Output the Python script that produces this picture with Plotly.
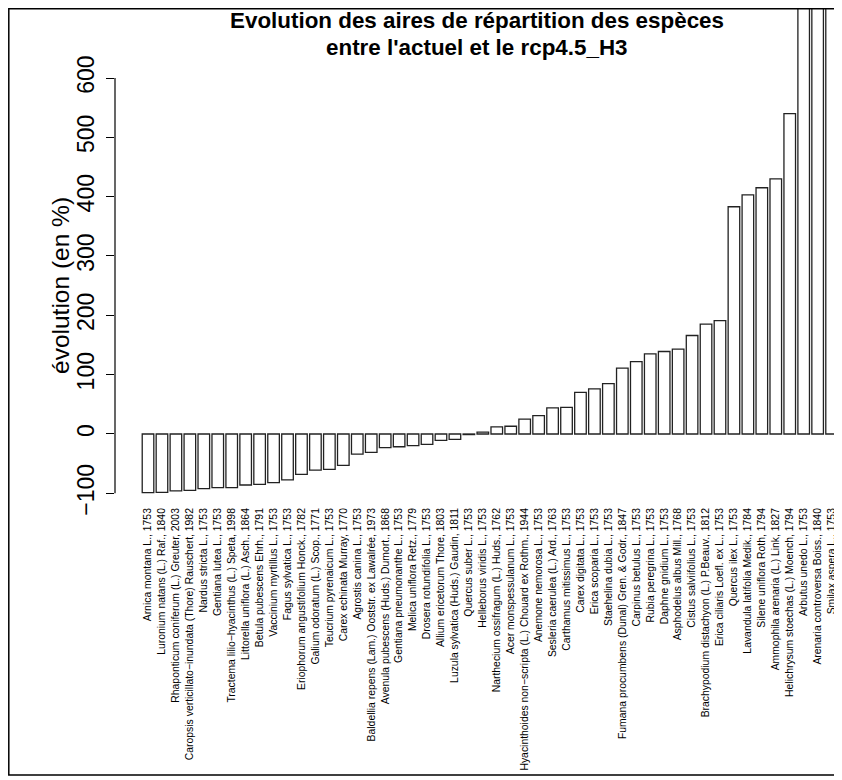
import plotly.graph_objects as go

# species, sorted by change in range area
especes = [
    "Arnica montana L., 1753",
    "Luronium natans (L.) Raf., 1840",
    "Rhaponticum coniferum (L.) Greuter, 2003",
    "Caropsis verticillato−inundata (Thore) Rauschert, 1982",
    "Nardus stricta L., 1753",
    "Gentiana lutea L., 1753",
    "Tractema lilio−hyacinthus (L.) Speta, 1998",
    "Littorella uniflora (L.) Asch., 1864",
    "Betula pubescens Ehrh., 1791",
    "Vaccinium myrtillus L., 1753",
    "Fagus sylvatica L., 1753",
    "Eriophorum angustifolium Honck., 1782",
    "Galium odoratum (L.) Scop., 1771",
    "Teucrium pyrenaicum L., 1753",
    "Carex echinata Murray, 1770",
    "Agrostis canina L., 1753",
    "Baldellia repens (Lam.) Ooststr. ex Lawalrée, 1973",
    "Avenula pubescens (Huds.) Dumort., 1868",
    "Gentiana pneumonanthe L., 1753",
    "Melica uniflora Retz., 1779",
    "Drosera rotundifolia L., 1753",
    "Allium ericetorum Thore, 1803",
    "Luzula sylvatica (Huds.) Gaudin, 1811",
    "Quercus suber L., 1753",
    "Helleborus viridis L., 1753",
    "Narthecium ossifragum (L.) Huds., 1762",
    "Acer monspessulanum L., 1753",
    "Hyacinthoides non−scripta (L.) Chouard ex Rothm., 1944",
    "Anemone nemorosa L., 1753",
    "Sesleria caerulea (L.) Ard., 1763",
    "Carthamus mitissimus L., 1753",
    "Carex digitata L., 1753",
    "Erica scoparia L., 1753",
    "Staehelina dubia L., 1753",
    "Fumana procumbens (Dunal) Gren. & Godr., 1847",
    "Carpinus betulus L., 1753",
    "Rubia peregrina L., 1753",
    "Daphne gnidium L., 1753",
    "Asphodelus albus Mill., 1768",
    "Cistus salviifolius L., 1753",
    "Brachypodium distachyon (L.) P.Beauv., 1812",
    "Erica ciliaris Loefl. ex L., 1753",
    "Quercus ilex L., 1753",
    "Lavandula latifolia Medik., 1784",
    "Silene uniflora Roth, 1794",
    "Ammophila arenaria (L.) Link, 1827",
    "Helichrysum stoechas (L.) Moench, 1794",
    "Arbutus unedo L., 1753",
    "Arenaria controversa Boiss., 1840",
    "Smilax aspera L., 1753",
]

evolution = [
    -99, -98.5, -96, -95, -92, -90.5, -90.5, -86, -85, -82,
    -77.5, -68, -61, -59.5, -53, -34, -31, -23, -21.5, -19.5,
    -17.5, -10.8, -9, -1, 3, 12, 13, 25, 31, 44,
    45, 70, 76, 85, 111, 122, 135, 139, 143, 166,
    185, 191, 383, 403, 415, 430, 540, 780, 950, 1200,
]

y_ticks = [-100, 0, 100, 200, 300, 400, 500, 600]

titre = ["Evolution des aires de répartition des espèces",
         "entre l'actuel et le rcp4.5_H3"]

# page body has an 8px margin, so the figure is sized to fit the window
W, H = 834, 772
px = lambda v: v / W
py = lambda v: 1 - v / H

font = "Liberation Sans, Arial, Helvetica, sans-serif"

fig = go.Figure()
fig.add_trace(go.Bar(
    x=especes,
    y=evolution,
    marker=dict(color="white", line=dict(color="#222222", width=1.3)),
    hoverinfo="x+y",
))

fig.update_layout(
    width=W, height=H,
    margin=dict(l=0, r=0, t=0, b=0),
    paper_bgcolor="white", plot_bgcolor="white",
    bargap=0.17,
    showlegend=False,
    font=dict(family=font, color="black"),
    xaxis=dict(
        domain=[px(107), px(830)],
        range=[-2.366, 49.46],
        tickmode="array", tickvals=especes, ticktext=especes,
        tickangle=-90,
        tickfont=dict(size=10.4, color="black"),
        showgrid=False, zeroline=False, showline=False, ticks="",
        automargin=False,
    ),
    yaxis=dict(
        domain=[py(497), py(1)],
        range=[-119.7, 716.3],
        tickvals=y_ticks,
        tickangle=-90,
        tickfont=dict(size=23, color="black"),
        ticks="outside", ticklen=8, tickwidth=1.2, tickcolor="black",
        ticklabelstandoff=3,
        showgrid=False, zeroline=False, showline=False,
        automargin=False,
    ),
)

# y axis line, only over the tick span
fig.add_shape(type="line", xref="x domain", yref="y", x0=0, x1=0,
              y0=y_ticks[0], y1=y_ticks[-1],
              line=dict(color="black", width=1.2))

# box around the figure
fig.add_shape(type="rect", xref="paper", yref="paper",
              x0=px(0.8), x1=px(830), y0=py(767), y1=py(0.8),
              line=dict(color="black", width=1.5), fillcolor="rgba(0,0,0,0)",
              layer="above")

fig.add_annotation(
    text="évolution (en %)", textangle=-90,
    xref="paper", yref="paper", x=px(53), y=py(277),
    xanchor="center", yanchor="middle", showarrow=False,
    font=dict(size=24.5, color="black", family=font),
)

for ligne, yc in zip(titre, [12.5, 39.5]):
    fig.add_annotation(
        text="<b>%s</b>" % ligne,
        xref="paper", yref="paper", x=px(469), y=py(yc),
        xanchor="center", yanchor="middle", showarrow=False,
        font=dict(size=22.4, color="black", family=font),
    )

fig.write_html("out.html")
